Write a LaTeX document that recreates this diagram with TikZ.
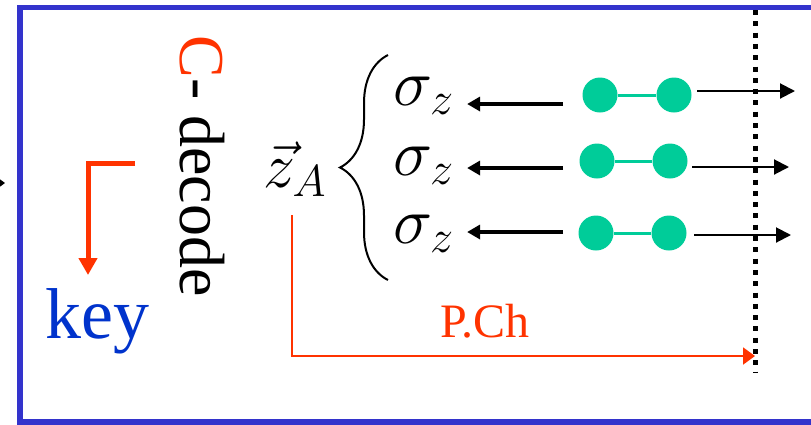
\RequirePackage{fix-cm}
\documentclass[tikz,border=0pt]{standalone}
\usepackage{fontspec}
\setmainfont{Liberation Serif}
\usetikzlibrary{arrows.meta, decorations.pathreplacing}

\definecolor{frameblue}{HTML}{3333CC}
\definecolor{keyblue}{HTML}{0033CC}
\definecolor{redorange}{HTML}{FF3300}
\definecolor{spingreen}{HTML}{00CC99}

\begin{document}
\begin{tikzpicture}[
    x=1pt, y=-1pt,
    spin/.style={circle, fill=spingreen, minimum size=35pt, inner sep=0pt},
    bond/.style={spingreen, line width=3pt},
    sig/.style={anchor=base west, inner sep=0pt, font=\fontsize{66}{66}\selectfont},
    meas/.style={line width=4pt, -{Triangle[length=13pt, width=14pt]}},
    emit/.style={line width=2pt, -{Triangle[length=15pt, width=15pt]}},
    cut/.style={line width=5pt, dash pattern=on 5pt off 6.3pt},
    thick
  ]
  \useasboundingbox (0,0) rectangle (811,424);
  \clip (0,0) rectangle (811,424);

  % --- frame ---
  \draw[frameblue, line width=5.5pt] (20,7.5) rectangle (850,422);
  \coordinate (inL) at (-12,183);
  \coordinate (inR) at (5,183);
  \draw[line width=1.5pt, -{Triangle[length=5pt, width=7pt]}] (inL) -- (inR);

  % --- decoding to the key ---
  \node[rotate=-90, anchor=base west, inner sep=0pt, font=\rmfamily\fontsize{64}{64}\selectfont]
    (dec) at (180,35) {\textcolor{redorange}{C}- decode};
  \node[anchor=base west, inner sep=0pt, text=keyblue, font=\rmfamily\fontsize{72}{72}\selectfont]
    (key) at (45,338) {key};
  \coordinate (cd) at (135,163);
  \coordinate (kt) at (88,275);
  \draw[redorange, line width=5pt, -{Triangle[length=17pt, width=18pt]}] (cd) -| (kt);

  % --- measured string ---
  \node[anchor=base west, inner sep=0pt, font=\fontsize{64}{64}\selectfont]
    (zA) at (263,187) {$\vec{z}_A$};
  \draw[decorate, decoration={brace, amplitude=48pt}, line width=2pt]
    (388,280) -- (388,55);

  \node[sig] (s1) at (393,105) {$\sigma_z$};
  \node[sig] (s2) at (393,175) {$\sigma_z$};
  \node[sig] (s3) at (393,243) {$\sigma_z$};

  % spin pairs
  \node[spin] (d1a) at (600,95) {};
  \node[spin] (d1b) at (674,95) {};
  \node[spin] (d2a) at (597,161) {};
  \node[spin] (d2b) at (670,161) {};
  \node[spin] (d3a) at (596,233) {};
  \node[spin] (d3b) at (669,233) {};
  \draw[bond] (d1a) -- (d1b);
  \draw[bond] (d2a) -- (d2b);
  \draw[bond] (d3a) -- (d3b);

  % measurement arrows
  \coordinate (m1) at (563,104);
  \coordinate (m2) at (563,168);
  \coordinate (m3) at (563,232);
  \draw[meas, shorten >=13pt] (m1) -- (m1 -| s1.east);
  \draw[meas, shorten >=13pt] (m2) -- (m2 -| s2.east);
  \draw[meas, shorten >=13pt] (m3) -- (m3 -| s3.east);

  % outgoing halves
  \coordinate (e1) at (795,91);
  \coordinate (e2) at (789,167);
  \coordinate (e3) at (791,235);
  \draw[emit] (d1b.east) ++(5.5,-4) -- (e1);
  \draw[emit] (d2b.east) ++(4.5,6) -- (e2);
  \draw[emit] (d3b.east) ++(7.5,2) -- (e3);

  % --- public channel ---
  \coordinate (dt) at (755,10);
  \coordinate (db) at (755,373);
  \draw[cut] (dt) -- (db);
  \coordinate (pc) at (292,215);
  \coordinate (pe) at (755,356);
  \draw[redorange, line width=2pt, -{Triangle[length=12pt, width=17pt]}] (pc) |- (pe);
  \node[anchor=base west, inner sep=0pt, text=redorange, font=\rmfamily\fontsize{48}{48}\selectfont]
    (pch) at (440,337) {P.Ch};
\end{tikzpicture}
\end{document}
